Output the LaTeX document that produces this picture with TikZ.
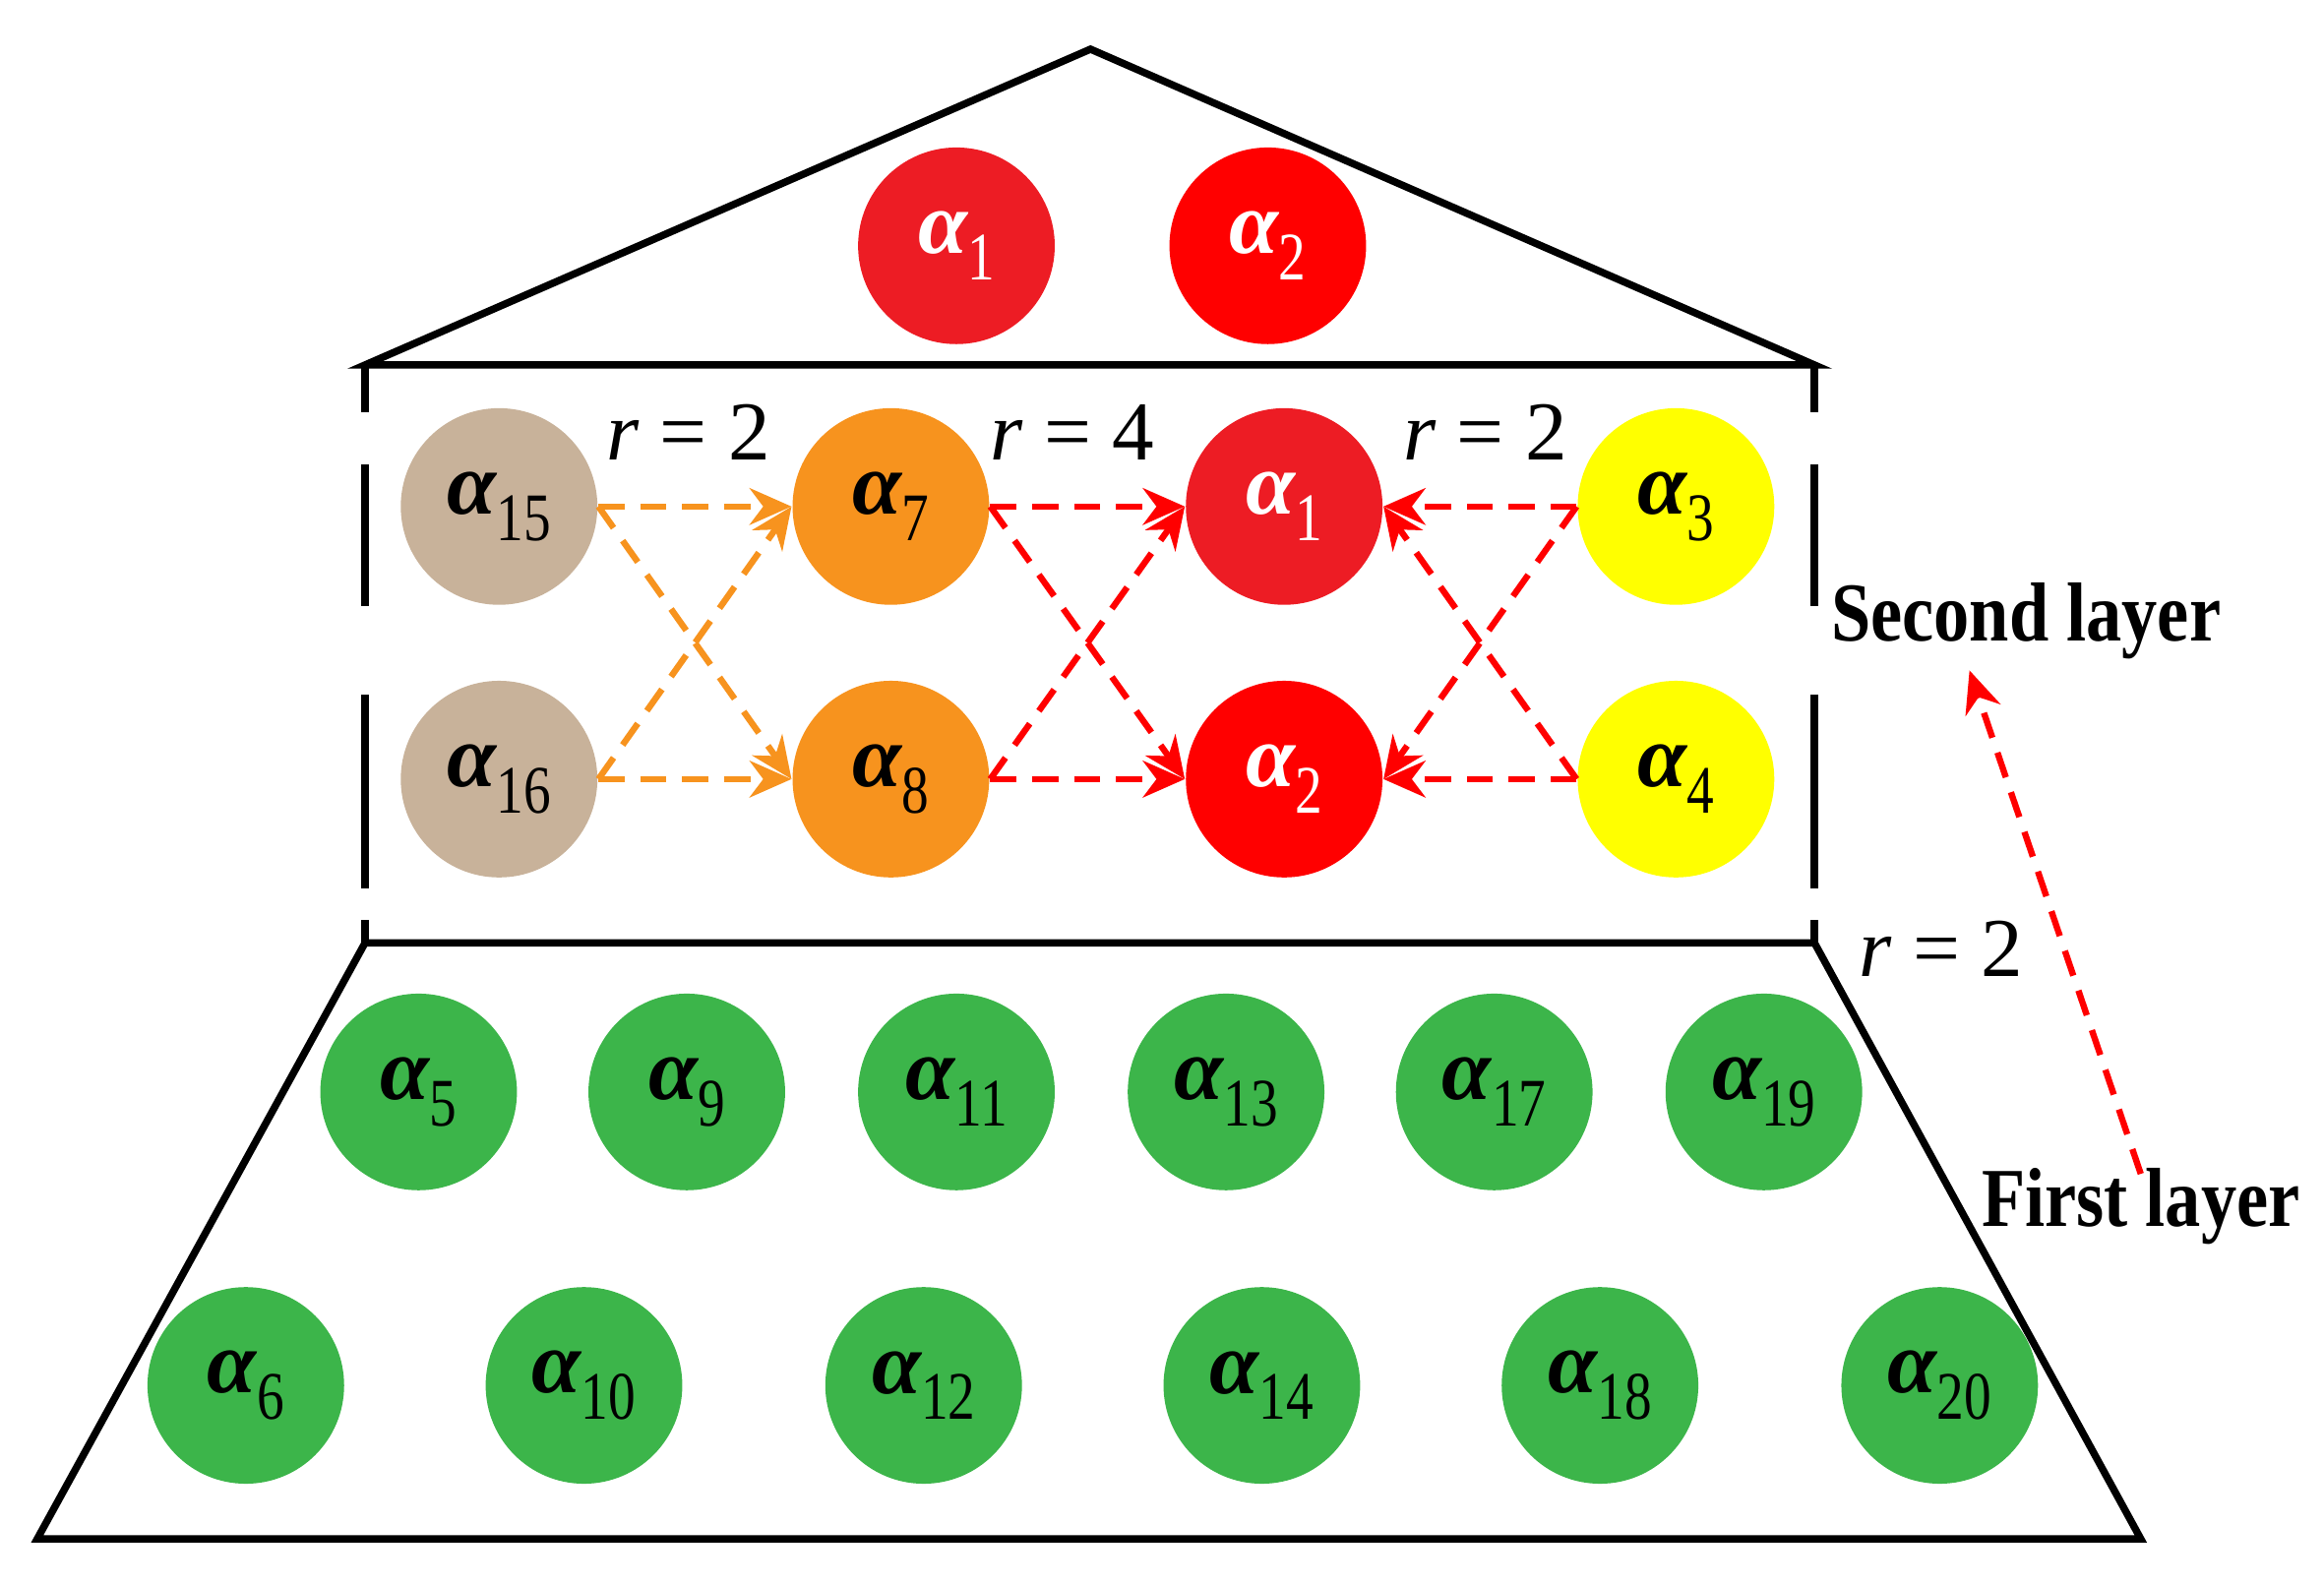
\documentclass[tikz,border=0pt]{standalone}
\usepackage{fontspec}
\setmainfont{Liberation Serif}
\usetikzlibrary{arrows.meta}
\definecolor{rA}{HTML}{ED1C24}
\definecolor{rB}{HTML}{FF0000}
\definecolor{tan}{HTML}{C8B29A}
\definecolor{org}{HTML}{F7931E}
\definecolor{yel}{HTML}{FFFF00}
\definecolor{grn}{HTML}{3CB54A}
\begin{document}
\begin{tikzpicture}[x=0.1mm,y=-0.1mm,
  ball/.style={circle,minimum size=13.2mm,inner sep=0pt},
  frame/.style={line width=1.4pt,black},
  darr/.style={line width=1.2pt,dash pattern=on 5pt off 3pt,-{Stealth[length=8pt,width=7pt]}},
  lab/.style={font=\fontsize{16}{18}\selectfont}]
\useasboundingbox (0,0) rectangle (1560,1064);
\newcommand{\al}[1]{{\fontsize{17}{18}\selectfont\bfseries\itshape α}\raisebox{-1.1ex}{\fontsize{13}{14}\selectfont\scalebox{0.8}[1]{#1}}}
\newcommand{\alw}[1]{\textcolor{white}{{\fontsize{17}{18}\selectfont\bfseries\itshape α}\raisebox{-1.1ex}{\fontsize{13}{14}\selectfont\scalebox{0.8}[1]{#1}}}}
% frames
\draw[frame] (245,245) -- (732,33) -- (1218,245) -- cycle;
\draw[frame,dash pattern=on 9pt off 10pt on 27pt off 17pt on 37pt off 6pt] (245,245) -- (245,633);
\draw[frame,dash pattern=on 9pt off 10pt on 27pt off 17pt on 37pt off 6pt] (1218,245) -- (1218,633);
\draw[frame] (245,633) -- (1218,633) -- (1437,1033) -- (25,1033) -- cycle;
% top
\node[ball,fill=rA] (t1) at (642,165) {\alw{1}};
\node[ball,fill=rB] (t2) at (851,165) {\alw{2}};
% middle
\node[ball,fill=tan] (a15) at (335,340) {\al{15}};
\node[ball,fill=tan] (a16) at (335,523) {\al{16}};
\node[ball,fill=org] (a7) at (598,340) {\al{7}};
\node[ball,fill=org] (a8) at (598,523) {\al{8}};
\node[ball,fill=rA] (a1) at (862,340) {\alw{1}};
\node[ball,fill=rB] (a2) at (862,523) {\alw{2}};
\node[ball,fill=yel] (a3) at (1125,340) {\al{3}};
\node[ball,fill=yel] (a4) at (1125,523) {\al{4}};
% green
\foreach \n/\x in {5/281,9/461,11/642,13/823,17/1003,19/1184}
  \node[ball,fill=grn] (g\n) at (\x,733) {\al{\n}};
\foreach \n/\x in {6/165,10/392,12/620,14/847,18/1074,20/1302}
  \node[ball,fill=grn] (g\n) at (\x,930) {\al{\n}};
% arrows
\foreach \s in {a15,a16} \foreach \t in {a7,a8}
  \draw[darr,org] (\s.east) -- (\t.west);
\foreach \s in {a7,a8} \foreach \t in {a1,a2}
  \draw[darr,rB] (\s.east) -- (\t.west);
\foreach \s in {a3,a4} \foreach \t in {a1,a2}
  \draw[darr,rB] (\s.west) -- (\t.east);
% labels
\node[lab] (r1) at (462,290) {\textit{r} = 2};
\node[lab] (r2) at (720,290) {\textit{r} = 4};
\node[lab] (r3) at (997,290) {\textit{r} = 2};
\node[lab] (r4) at (1303,637) {\textit{r} = 2};
\node[font=\fontsize{16}{18}\selectfont\bfseries] (sl) at (1360,417) {\scalebox{0.85}[1]{Second layer}};
\node[font=\fontsize{16}{18}\selectfont\bfseries] (fl) at (1437,810) {\scalebox{0.85}[1]{First layer}};
\coordinate (fs) at (1437,788);
\coordinate (fe) at (1322,450);
\draw[darr,rB] (fs) -- (fe);
\end{tikzpicture}
\end{document}
